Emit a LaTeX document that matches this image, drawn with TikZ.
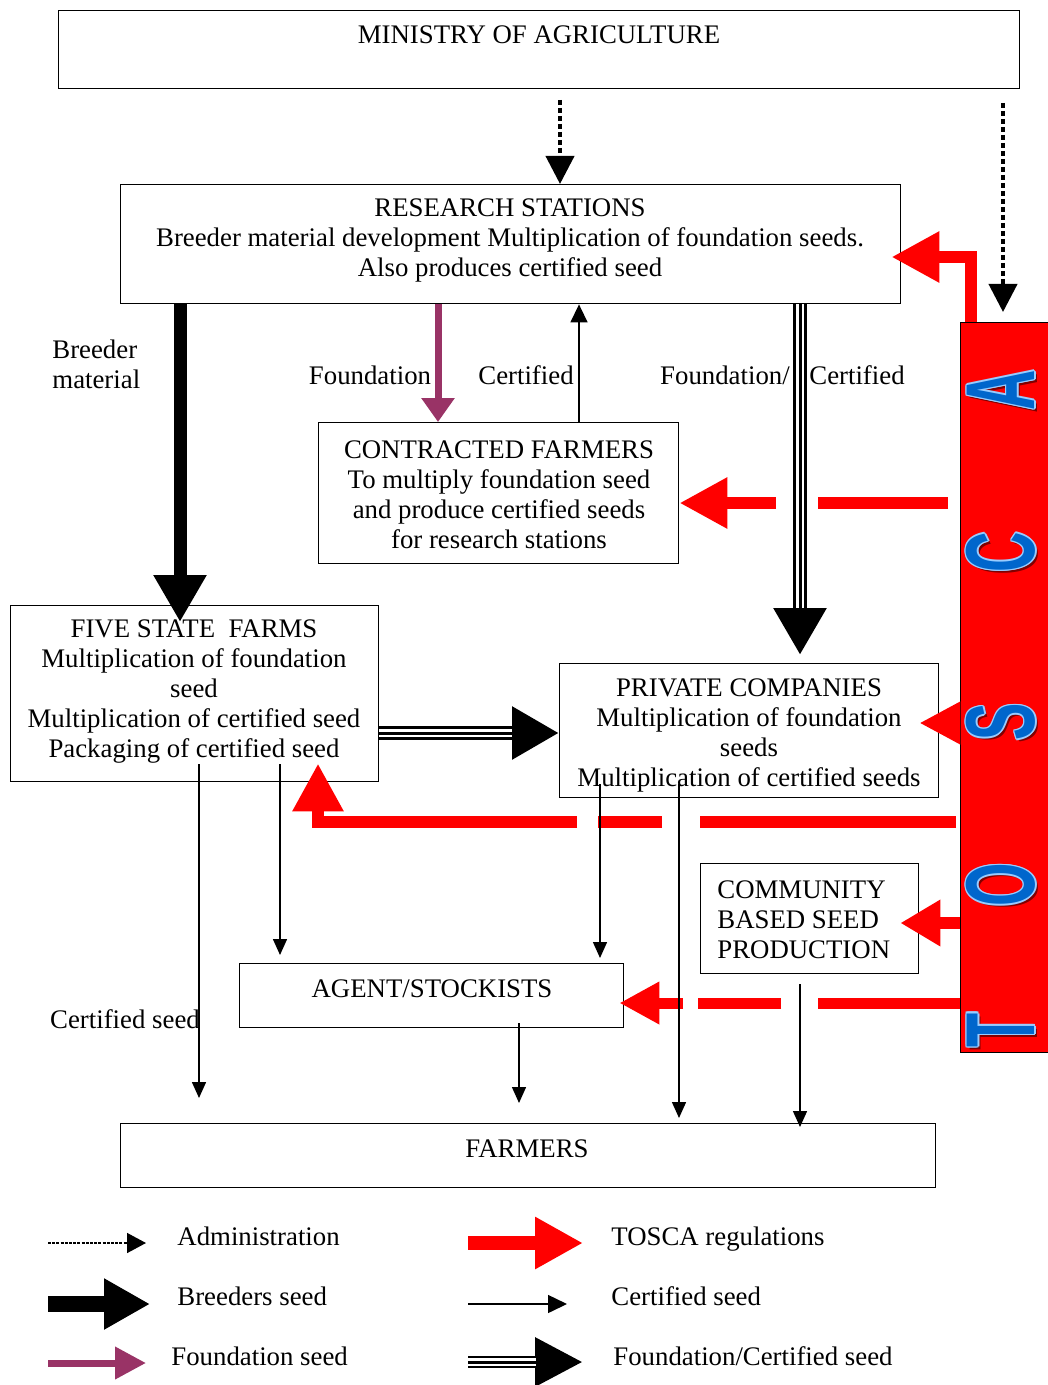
\documentclass[tikz,border=0pt]{standalone}
\usepackage{graphicx}
\usepackage{fontspec}
\setmainfont{Liberation Serif}
\newfontfamily\toscafont{Liberation Sans}
\usetikzlibrary{arrows.meta,calc}
\definecolor{tred}{HTML}{FF0000}
\definecolor{tblue}{HTML}{0066CC}
\definecolor{tlight}{HTML}{99CCFF}
\definecolor{tshadow}{HTML}{800000}
\definecolor{plum}{HTML}{993366}
\tikzset{
  box/.style={draw=black, line width=0.7pt, anchor=north west, inner sep=0pt, fill=white},
  txt/.style={font=\fontsize{13.4}{15}\selectfont, align=center, inner sep=0pt},
  lbl/.style={font=\fontsize{13.4}{15}\selectfont, inner sep=0pt, text height=9pt, text depth=3pt},
  admin/.style={draw=black, line width=2pt, dash pattern=on 2.5pt off 1.5pt, -{Triangle[length=14pt,width=14pt]}},
  breeder/.style={draw=black, line width=6.5pt, -{Triangle[length=23.5pt,width=25pt]}},
  found/.style={draw=plum, line width=3.5pt, -{Triangle[length=12pt,width=16pt]}},
  cert/.style={draw=black, line width=0.75pt, -{Triangle[length=8pt,width=7pt]}},
  tosca/.style={draw=tred, line width=6pt, line join=miter, -{Triangle[length=24pt,width=24pt]}},
  triple/.style={draw=black, line width=7pt, -{Triangle[length=23.5pt,width=25pt]},
    postaction={draw=white, -, line width=4pt, shorten >=23.5pt},
    postaction={draw=black, -, line width=1.5pt, shorten >=23.5pt}},
  tl/.style={rotate=90, inner sep=0pt, font=\toscafont\bfseries\fontsize{49}{49}\selectfont}
}
\begin{document}
\begin{tikzpicture}[x=0.5pt, y=-0.5pt]
\fill[white] (0,0) rectangle (1048,1385);
\useasboundingbox (0,0) rectangle (1048,1385);

% ---------- boxes ----------
\node[box, minimum width=480.5pt, minimum height=39pt] (min) at (58,10) {};
\node[box, minimum width=390pt, minimum height=59.5pt] (rs) at (120,184) {};
\node[box, minimum width=180pt, minimum height=70.5pt] (cf) at (318,422) {};
\node[box, minimum width=184pt, minimum height=88pt] (fsf) at (10,605) {};
\node[box, minimum width=189.5pt, minimum height=67pt] (pc) at (559,663) {};
\node[box, minimum width=109pt, minimum height=55pt] (cb) at (700,863) {};
\node[box, minimum width=192pt, minimum height=32pt] (ag) at (239,963) {};
\node[box, minimum width=407.5pt, minimum height=32pt] (fa) at (120,1123) {};
\node[box, draw=black, fill=tred, minimum width=46pt, minimum height=365pt] (tosca) at (960,322) {};

% ---------- box texts ----------
\node[txt] (min-t) at (539,35) {MINISTRY OF AGRICULTURE};
\node[txt] (rs-t) at (510,240) {RESEARCH STATIONS\\Breeder material development Multiplication of foundation seeds.\\Also produces certified seed};
\node[txt] (cf-t) at (499,495) {CONTRACTED FARMERS\\To multiply foundation seed\\and produce certified seeds\\for research stations};
\node[txt] (fsf-t) at (194,692) {FIVE STATE\ \ FARMS\\Multiplication of foundation\\seed\\Multiplication of certified seed\\Packaging of certified seed};
\node[txt] (pc-t) at (749,735) {PRIVATE COMPANIES\\Multiplication of foundation\\seeds\\Multiplication of certified seeds};
\node[txt, align=left, anchor=west] (cb-t) at (717,920) {COMMUNITY\\BASED SEED\\PRODUCTION};
\node[txt] (ag-t) at (432,989) {AGENT/STOCKISTS};
\node[txt] (fa-t) at (527,1149) {FARMERS};

% ---------- TOSCA letters ----------
\foreach \l/\yy in {A/390, C/552, S/722, O/885, T/1030} {
  \node[tl, text=tshadow] (sh\l) at (1004,\yy+3) {\scalebox{0.57}[1]{\l}};
  \foreach \dx/\dy [count=\k] in {-1.5/0, 1.5/0, 0/-1.5, 0/1.5, -1.1/-1.1, 1.1/-1.1, -1.1/1.1, 1.1/1.1} {
    \node[tl, text=tlight] (ol\l\k) at (1001+\dx,\yy+\dy) {\scalebox{0.57}[1]{\l}};
  }
  \node[tl, text=tblue] (L\l) at (1001,\yy) {\scalebox{0.57}[1]{\l}};
}

% ---------- administration ----------
\coordinate (a1) at (560,100);
\coordinate (a2) at (1003,103);
\draw[admin] (a1) -- (a1 |- rs.north);
\draw[admin, shorten >=5pt] (a2) -- (a2 |- tosca.north);

% ---------- breeder ----------
\draw[breeder, shorten >=-8.5pt] (rs.south -| 180,0) -- (fsf.north -| 180,0);
\node[txt, align=left, anchor=west] (lb-breeder) at (52,364) {Breeder\\material};

% ---------- foundation / certified to contracted ----------
\draw[found] (rs.south -| 438,0) -- (cf.north -| 438,0);
\draw[cert, -{Triangle[length=9pt,width=8.5pt]}] (cf.north -| 579,0) -- (rs.south -| 579,0);
\node[lbl] (lb-found) at (370,379) {Foundation};
\node[lbl] (lb-cert) at (526,379) {Certified};

% ---------- triple arrows ----------
\coordinate (t1end) at ($(pc.north -| 800,0)+(0,-8)$);
\draw[triple] (rs.south -| 800,0) -- (t1end);
\draw[triple] (fsf.east |- 0,733) -- (pc.west |- 0,733);
\node[lbl] (lb-fc1) at (725,379) {Foundation/};
\node[lbl] (lb-fc2) at (857,379) {Certified};

% ---------- TOSCA regulations ----------
\coordinate (r1a) at (tosca.north -| 971,0);
\coordinate (r1b) at (971,257);
\draw[tosca, shorten >=-5pt] (r1a) -- (r1b) -- (rs.east |- r1b);
\draw[tosca, dash pattern=on 0pt off 6pt on 65pt off 21pt on 500pt] (tosca.west |- 0,503) -- (cf.east |- 0,503);
\draw[tosca, shorten >=-10pt, -{Triangle[length=20.5pt,width=20pt]}] (tosca.west |- 0,723) -- (pc.east |- 0,723);
\draw[tosca, shorten >=-9.5pt, -{Triangle[length=20pt,width=22pt]}] (tosca.west |- 0,923) -- (cb.east |- 0,923);
\coordinate (r5b) at (318,822);
\draw[tosca, shorten >=-9.5pt, dash pattern=on 0pt off 2pt on 128pt off 19pt on 32pt off 10.5pt on 600pt] (tosca.west |- r5b) -- (r5b) -- (fsf.south -| r5b);
\draw[tosca, line width=5.5pt, shorten >=-2.5pt, -{Triangle[length=20pt,width=20pt]}, dash pattern=on 71pt off 18.5pt on 41.5pt off 7.5pt on 500pt] (tosca.west |- 0,1003) -- (ag.east |- 0,1003);

% ---------- certified seed flows ----------
\draw[cert, shorten <=-9pt, shorten >=12.5pt] (fsf.south -| 199,0) -- (fa.north -| 199,0);
\draw[cert, shorten <=-9pt, shorten >=4pt] (fsf.south -| 280,0) -- (ag.north -| 280,0);
\draw[cert, shorten <=-7pt, shorten >=2.5pt] (pc.south -| 600,0) -- (ag.north -| 600,0);
\draw[cert, shorten <=-7pt, shorten >=2.5pt] (pc.south -| 679,0) -- (fa.north -| 679,0);
\draw[cert, shorten <=5pt, shorten >=-2pt] (cb.south -| 800,0) -- (fa.north -| 800,0);
\draw[cert, shorten <=-2.5pt, shorten >=10pt] (ag.south -| 519,0) -- (fa.north -| 519,0);
\node[lbl] (lb-cs) at (125,1022) {Certified seed};

% ---------- legend ----------
\coordinate (g1a) at (48,1243);   \coordinate (g1b) at (146,1243);
\coordinate (g2a) at (468,1243);  \coordinate (g2b) at (583,1243);
\coordinate (g3a) at (48,1304);   \coordinate (g3b) at (150,1304);
\coordinate (g4a) at (468,1304);  \coordinate (g4b) at (567,1304);
\coordinate (g5a) at (48,1363);   \coordinate (g5b) at (146,1363);
\coordinate (g6a) at (468,1362);  \coordinate (g6b) at (583,1362);
\draw[draw=black, line width=0.75pt, dash pattern=on 1.5pt off 0.6pt, -{Triangle[length=9.5pt,width=10pt]}] (g1a) -- (g1b);
\draw[tosca, line width=7pt, -{Triangle[length=24pt,width=24.5pt]}] (g2a) -- (g2b);
\draw[breeder, line width=8pt, -{Triangle[length=23pt,width=24pt]}] (g3a) -- (g3b);
\draw[cert, -{Triangle[length=9.5pt,width=9pt]}] (g4a) -- (g4b);
\draw[found, -{Triangle[length=15.5pt,width=15.5pt]}] (g5a) -- (g5b);
\draw[triple, line width=6pt, -{Triangle[length=24pt,width=23pt]}] (g6a) -- (g6b);
\node[lbl, anchor=west] (lg1) at (177,1239) {Administration};
\node[lbl, anchor=west] (lg2) at (611,1239) {TOSCA regulations};
\node[lbl, anchor=west] (lg3) at (177,1299) {Breeders seed};
\node[lbl, anchor=west] (lg4) at (611,1299) {Certified seed};
\node[lbl, anchor=west] (lg5) at (171,1359) {Foundation seed};
\node[lbl, anchor=west] (lg6) at (613,1359) {Foundation/Certified seed};
\end{tikzpicture}
\end{document}
